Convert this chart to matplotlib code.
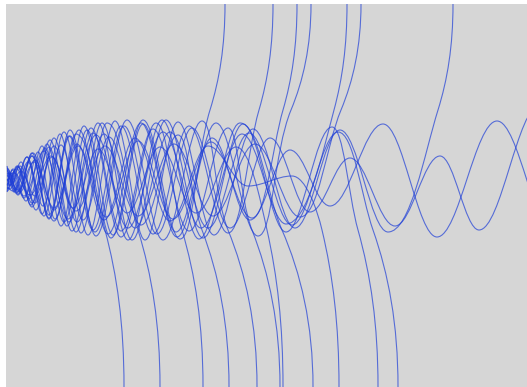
import matplotlib
matplotlib.use("Agg")
from matplotlib import pyplot as plt
from matplotlib.path import Path
from matplotlib.patches import PathPatch
import numpy as np

# %%
# every trace starts at x=7 and swings through a list of turning points (x, y)
# y is measured downward, in pixels

start_y = [186, 170, 191, 175, 168, 184, 179, 189, 173, 187, 166,
           181, 192, 176, 171, 185, 174, 188, 180, 169]

b1 = [(12, 170), (24, 198), (38, 152), (55, 219), (76, 134)]
b2 = [(14, 192), (27, 157), (42, 214), (60, 134), (81, 233), (107, 123)]
b3 = [(18, 166), (31, 205), (47, 144), (67, 226), (91, 128), (121, 237), (156, 123)]
b4 = [(15, 190), (28, 162), (43, 206), (61, 145), (83, 220), (109, 137), (141, 225),
      (178, 135)]
b5 = [(18, 195), (32, 153), (49, 219), (70, 130), (96, 236), (127, 120), (163, 240),
      (202, 121)]
b6 = [(18, 167), (32, 203), (49, 147), (69, 222), (93, 133), (121, 231), (153, 129),
      (189, 231), (228, 128)]
b7 = [(10, 185), (21, 171), (35, 196), (52, 157), (73, 208), (98, 149), (127, 213),
      (160, 147), (196, 213), (236, 147)]
b8 = [(17, 166), (32, 207), (50, 140), (72, 231), (98, 123), (128, 240), (162, 120),
      (199, 239), (240, 123)]
b9 = [(10, 174), (20, 192), (35, 160), (54, 210), (77, 144), (104, 220), (135, 138),
      (170, 221), (208, 146), (248, 186), (292, 176)]
b10 = [(10, 189), (21, 162), (36, 210), (54, 138), (76, 232), (102, 123), (132, 240),
       (166, 120), (203, 238), (243, 124), (286, 232), (332, 127)]
b11 = [(9, 186), (20, 166), (35, 203), (54, 146), (77, 222), (104, 134), (135, 228),
       (170, 132), (208, 228), (249, 133), (292, 225), (338, 132)]

t1 = [(13, 169), (26, 201), (42, 146), (61, 226), (84, 126), (111, 238), (143, 120),
      (180, 239)]
t2 = [(9, 173), (18, 194), (32, 156), (49, 215), (69, 136), (93, 230), (121, 126),
      (153, 234), (189, 126), (228, 233)]
t3 = [(18, 190), (34, 162), (54, 208), (78, 146), (106, 217), (138, 141), (173, 219),
      (211, 142), (252, 218)]
t4 = [(16, 193), (33, 153), (54, 221), (79, 130), (108, 234), (141, 123), (177, 237),
      (216, 123), (258, 236)]
t5 = [(10, 173), (24, 196), (44, 151), (68, 219), (96, 135), (128, 228), (163, 132),
      (201, 228), (242, 134), (286, 224)]
t6 = [(14, 173), (30, 195), (51, 156), (76, 211), (105, 146), (138, 216), (174, 144),
      (213, 216), (255, 144), (300, 217)]
t7 = [(13, 191), (27, 157), (44, 216), (64, 132), (88, 235), (115, 121), (145, 240),
      (178, 122), (214, 235), (253, 129), (295, 228), (340, 130), (388, 232)]

# the two that never break away
wave_a = [(17, 169), (29, 199), (45, 148), (64, 222), (87, 130), (113, 235), (143, 124),
          (176, 232), (212, 138), (250, 220), (290, 150), (330, 206), (383, 124),
          (437, 237), (497, 121), (557, 240)]
wave_b = [(18, 192), (32, 156), (49, 218), (70, 136), (95, 232), (124, 126), (157, 234),
          (192, 128), (230, 228), (270, 138), (310, 212), (350, 158), (395, 226),
          (440, 156), (479, 230), (540, 105)]

traces = [b1, b2, b3, b4, b5, b6, b7, b8, b9, b10, b11,
          t1, t2, t3, t4, t5, t6, t7, wave_a, wave_b]

# where a trace leaves the band (x at y=230 going down / y=110 going up) and hits the edge
leave_x = [105, 138, 182, 202, 228, 252, 267, 282, 322, 358, 373,
           210, 259, 283, 291, 334, 341, 438, None, None]
edge_x = [124, 160, 203, 229, 257, 280, 283, 313, 339, 378, 398,
          225, 273, 297, 311, 347, 361, 453, None, None]
goes_down = [True] * 11 + [False] * 7 + [None, None]

# %%
W, H = 527, 387
LINE = "#1f3fd6"
K = 0.364  # handle length for a sine-like half swing


def trace_path(y0, pts, lx, ex, down):
    verts = [(7, y0)]
    codes = [Path.MOVETO]
    px, py = 7, y0
    for x, y in pts:
        dx = x - px
        verts += [(px + K * dx, py), (x - K * dx, y), (x, y)]
        codes += [Path.CURVE4] * 3
        px, py = x, y
    if lx is not None:
        ly, ey = (230, H) if down else (110, 4)
        t = np.array([2.2 * (ex - lx), ey - ly], dtype=float)
        t /= np.hypot(*t)
        d1 = np.hypot(lx - px, ly - py)
        c2 = np.array([lx, ly]) - 0.35 * d1 * t
        verts += [(px + 0.45 * (lx - px), py), tuple(c2), (lx, ly)]
        d2 = abs(ey - ly)
        c3 = np.array([lx, ly]) + 0.3 * d2 * t
        verts += [tuple(c3), (ex, ey - 0.4 * (ey - ly)), (ex, ey)]
        codes += [Path.CURVE4] * 6
    return Path(verts, codes)


fig = plt.figure(figsize=(W / 100, H / 100), dpi=100, facecolor="white")
ax = fig.add_axes([6 / W, 0, (W - 6) / W, (H - 4) / H])
ax.set_facecolor("#d6d6d6")
ax.set_xlim(6, W)
ax.set_ylim(H, 4)
ax.set_xticks([])
ax.set_yticks([])
for s in ax.spines.values():
    s.set_visible(False)

for y0, pts, lx, ex, down in zip(start_y, traces, leave_x, edge_x, goes_down):
    p = trace_path(y0, pts, lx, ex, down)
    ax.add_patch(PathPatch(p, facecolor="none", edgecolor=LINE, lw=0.8, alpha=0.7))

fig.savefig("out.png", dpi=100, facecolor="white")
